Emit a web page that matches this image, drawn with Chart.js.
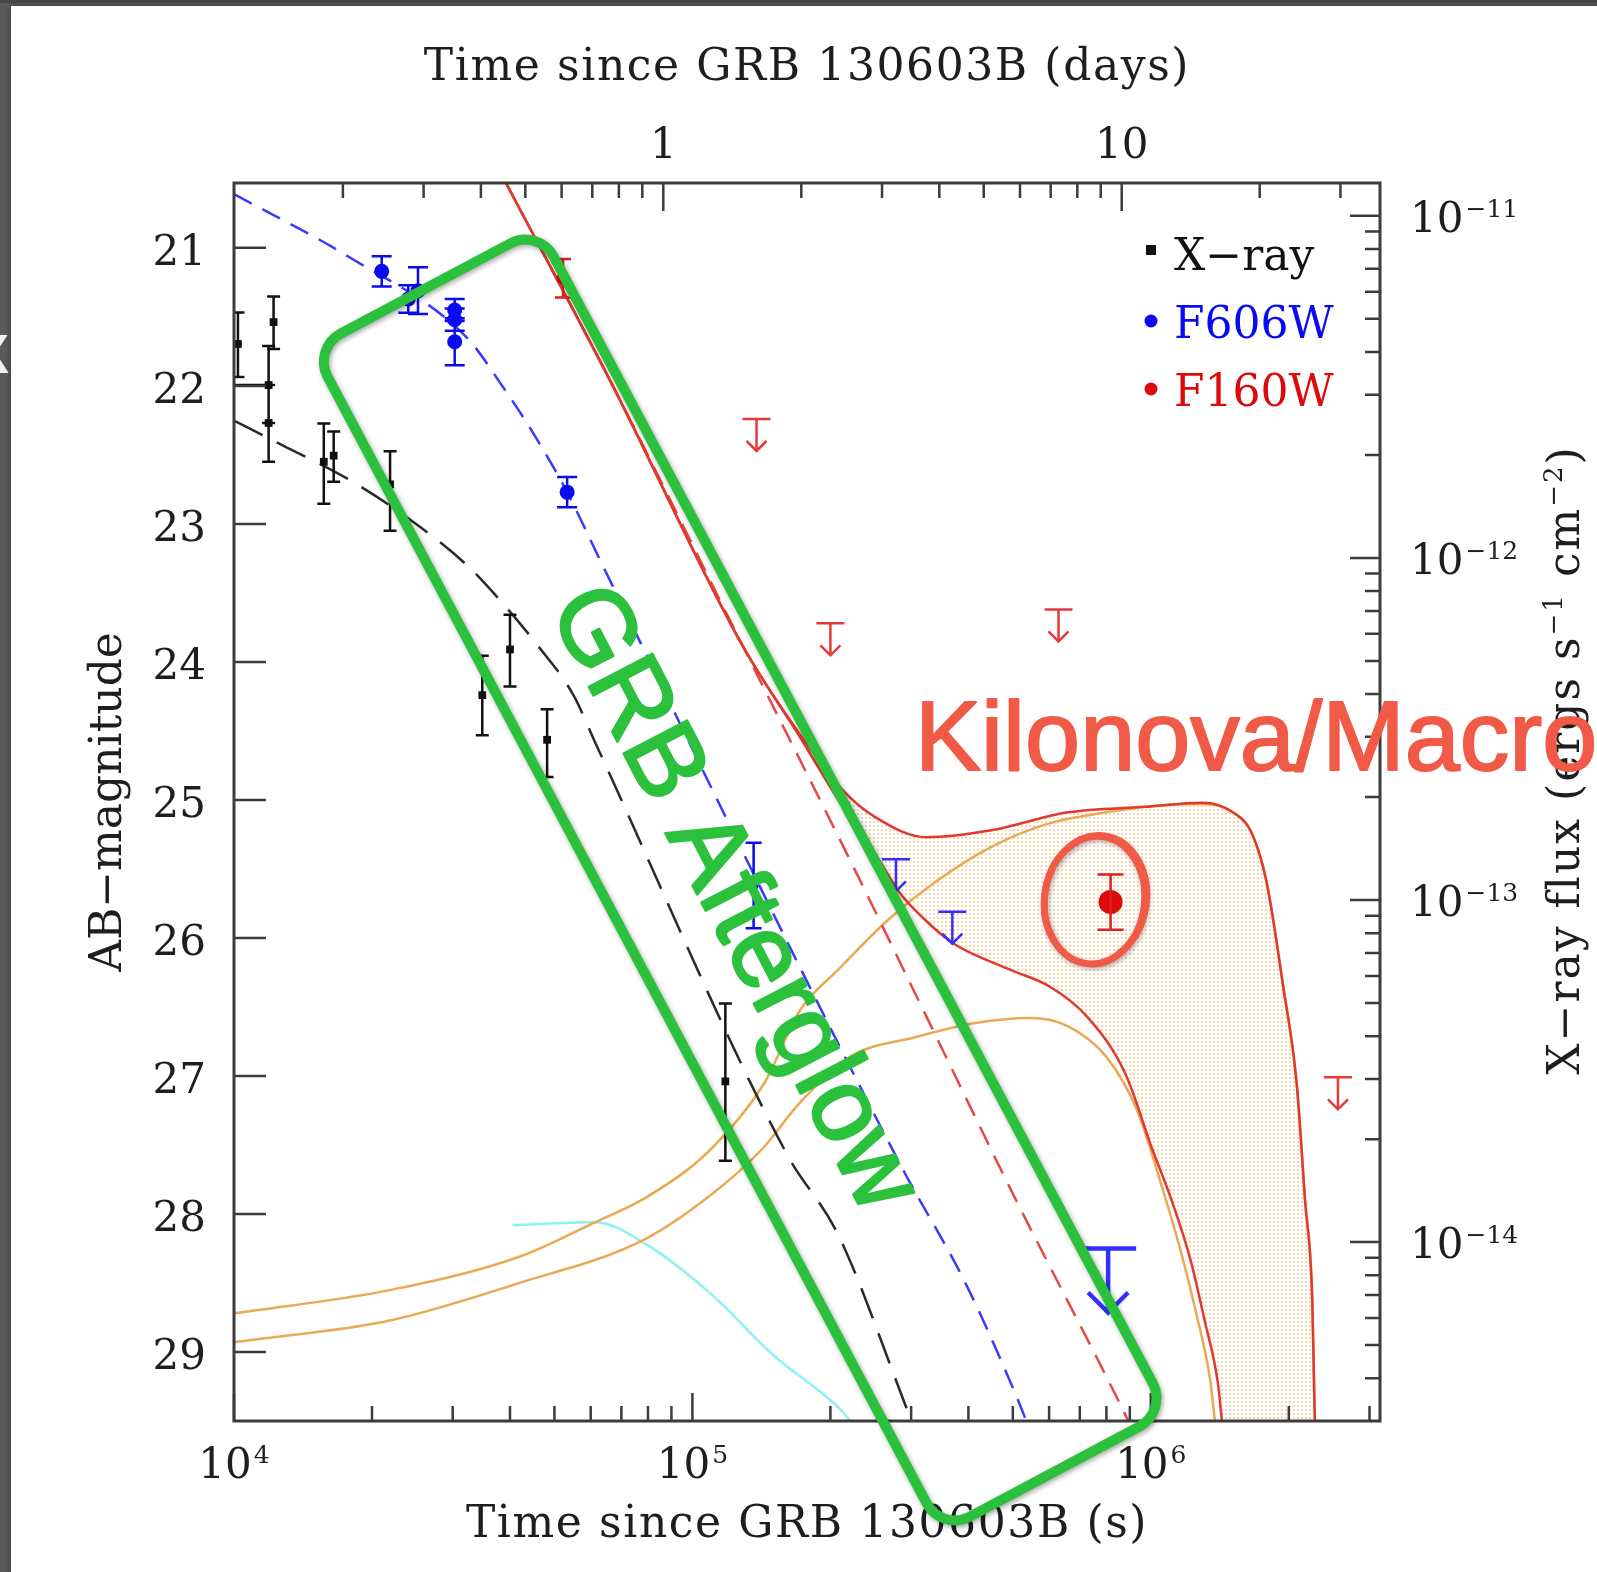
<!DOCTYPE html>
<html lang="en">
<head>
<meta charset="utf-8">
<title>GRB 130603B light curve</title>
<script src="https://cdn.jsdelivr.net/npm/chart.js@4.4.1/dist/chart.umd.min.js"></script>
<style>
  html, body { margin: 0; padding: 0; background: #585858; }
  #wrap { position: relative; width: 1597px; height: 1572px; }
</style>
</head>
<body>
<div id="wrap"><canvas id="lc"></canvas></div>
<script>
// ============================================
// DATA - GRB 130603B light curve (time in seconds)
// ============================================

// Swift/XRT X-ray detections (erg s^-1 cm^-2)
const xrayTime   = [1.02e4, 1.22e4, 1.19e4, 1.19e4, 1.57e4, 1.65e4, 2.19e4, 3.48e4, 4.00e4, 4.82e4, 1.18e5];
const xrayFlux   = [4.22e-12, 4.89e-12, 3.20e-12, 2.48e-12, 1.91e-12, 1.99e-12, 1.64e-12, 3.97e-13, 5.40e-13, 2.94e-13, 2.95e-14];
const xrayFluxHi = [5.22e-12, 5.81e-12, 4.16e-12, 3.20e-12, 2.47e-12, 2.34e-12, 2.05e-12, 5.18e-13, 6.82e-13, 3.61e-13, 4.98e-14];
const xrayFluxLo = [3.38e-12, 4.08e-12, 2.48e-12, 1.91e-12, 1.44e-12, 1.67e-12, 1.20e-12, 3.03e-13, 4.21e-13, 2.29e-13, 1.73e-14];
const xrayTimeLo = [null, null, 9.0e3, null, null, null, null, null, null, null, null];

// F606W (optical) detections and 3-sigma upper limits (AB mag)
const f606Time = [2.10e4, 2.40e4, 2.52e4, 3.03e4, 3.03e4, 3.03e4, 5.33e4, 1.36e5];
const f606Mag  = [21.17, 21.37, 21.31, 21.45, 21.52, 21.68, 22.77, 25.62];
const f606Err  = [0.11, 0.10, 0.17, 0.08, 0.08, 0.17, 0.11, 0.31];
const f606LimTime = [2.78e5, 3.69e5, 8.07e5];
const f606LimMag  = [25.43, 25.81, 28.25];

// F160W (near-IR) detections and upper limits (AB mag)
const f160Time = [5.22e4, 8.17e5];
const f160Mag  = [21.22, 25.74];
const f160Err  = [0.14, 0.20];
const f160LimTime = [1.38e5, 2.00e5, 6.29e5, 2.56e6];
const f160LimMag  = [22.24, 23.72, 23.62, 27.01];

// afterglow models
const xrayModelTime = [1.00e4, 1.28e4, 1.76e4, 2.39e4, 3.22e4, 3.81e4, 4.58e4, 5.49e4, 6.20e4, 1.61e5, 2.08e5, 2.97e5];
const xrayModelFlux = [2.52e-12, 2.13e-12, 1.71e-12, 1.31e-12, 9.53e-13, 7.50e-13, 5.58e-13, 3.99e-13, 2.80e-13, 1.80e-14, 1.05e-14, 3.13e-15];
const f606AgTime = [1.00e4, 1.79e4, 3.22e4, 3.81e4, 4.49e4, 5.33e4, 6.39e4, 2.86e5, 3.94e5, 5.09e5, 5.35e5];
const f606AgMag  = [20.61, 21.07, 21.65, 21.98, 22.34, 22.77, 23.31, 27.66, 28.50, 29.32, 29.50];
const f160AgTime = [3.92e4, 6.61e4, 1.29e5, 2.21e5, 3.24e5, 5.03e5, 8.49e5, 9.23e5];
const f160AgMag  = [20.53, 21.96, 23.89, 25.44, 26.57, 27.87, 29.35, 29.60];

// kilonova models (F160W), bright and faint ejecta cases
const knHiTime = [1.00e4, 2.20e4, 4.19e4, 6.13e4, 7.93e4, 1.09e5, 1.43e5, 1.72e5, 2.08e5, 2.67e5, 3.37e5, 4.49e5, 6.00e5,
                  7.99e5, 1.05e6, 1.30e6, 1.51e6, 1.66e6, 1.79e6, 1.94e6, 2.08e6, 2.17e6, 2.25e6, 2.27e6, 2.28e6, 2.30e6];
const knHiMag  = [28.72, 28.55, 28.31, 28.06, 27.88, 27.54, 27.06, 26.52, 26.23, 25.87, 25.60, 25.34, 25.17,
                  25.09, 25.04, 25.03, 25.09, 25.24, 25.60, 26.33, 27.05, 27.90, 28.62, 29.22, 29.50, 29.63];
const knLoTime = [1.00e4, 2.20e4, 4.19e4, 7.69e4, 1.06e5, 1.41e5, 1.72e5, 2.21e5, 3.06e5, 4.08e5, 5.46e5, 6.60e5, 7.99e5,
                  9.34e5, 1.05e6, 1.16e6, 1.25e6, 1.35e6, 1.38e6, 1.40e6];
const knLoMag  = [28.93, 28.77, 28.50, 28.20, 27.90, 27.54, 27.19, 26.86, 26.72, 26.62, 26.58, 26.64, 26.86,
                  27.25, 27.77, 28.26, 28.69, 29.22, 29.50, 29.63];
// kilonova model (F606W)
const knBlueTime = [4.05e4, 6.13e4, 7.93e4, 1.09e5, 1.51e5, 2.08e5, 2.21e5];
const knBlueMag  = [28.08, 28.06, 28.22, 28.57, 29.03, 29.40, 29.50];

// afterglow + kilonova (F160W)
const totalHiTime = [3.92e4, 6.61e4, 1.29e5, 1.72e5, 2.13e5, 2.52e5, 3.24e5, 4.49e5, 6.60e5, 9.67e5, 1.30e6,
                     1.51e6, 1.66e6, 1.79e6, 1.94e6, 2.08e6, 2.17e6, 2.25e6, 2.27e6, 2.28e6, 2.30e6];
const totalHiMag  = [20.53, 21.96, 23.89, 24.53, 24.93, 25.13, 25.27, 25.22, 25.09, 25.05, 25.02,
                     25.09, 25.24, 25.60, 26.33, 27.05, 27.90, 28.62, 29.22, 29.50, 29.63];
const totalLoTime = [3.92e4, 6.61e4, 1.29e5, 1.72e5, 2.13e5, 2.44e5, 2.83e5, 3.22e5, 3.71e5, 4.93e5, 6.00e5,
                     7.26e5, 8.79e5, 1.01e6, 1.11e6, 1.22e6, 1.31e6, 1.40e6, 1.43e6, 1.45e6];
const totalLoMag  = [20.53, 21.96, 23.89, 24.55, 25.05, 25.33, 25.67, 25.87, 26.04, 26.23, 26.35,
                     26.57, 26.98, 27.54, 27.90, 28.33, 28.77, 29.22, 29.50, 29.63];

// axis ranges and ticks
const DAY = 86400;
const T_MIN = 1e4, T_MAX = 3.162e6;
const MAG_TOP = 20.53, MAG_BOTTOM = 29.5;
const FLUX_MIN = 3.133e-15, FLUX_MAX = 1.247e-11;
const magTicks = [21, 22, 23, 24, 25, 26, 27, 28, 29];
const secMajor = [1e4, 1e5, 1e6];
const secLabels = ['4', '5', '6'];
const dayMajor = [1, 10];
const dayLabels = ['1', '10'];
const fluxMajor = [1e-11, 1e-12, 1e-13, 1e-14];
const fluxLabels = ['\u221211', '\u221212', '\u221213', '\u221214'];

// 2..9 of every decade inside (lo, hi)
function minorTicks(firstDecade, lastDecade, lo, hi) {
    const out = [];
    for (let d = firstDecade; d <= lastDecade; d++) {
        for (let k = 2; k <= 9; k++) {
            const v = k * Math.pow(10, d);
            if (v > lo && v < hi) out.push(v);
        }
    }
    return out;
}
const secMinor = minorTicks(4, 6, T_MIN, T_MAX);
const dayMinor = minorTicks(-1, 1, T_MIN / DAY, T_MAX / DAY);
const fluxMinor = minorTicks(-15, -12, FLUX_MIN, FLUX_MAX);

// ============================================
// STYLE
// ============================================
const SERIF = '"DejaVu Serif", "Liberation Serif", serif';
const SANS = '"Liberation Sans", Arial, sans-serif';
const INK = '#1e1e1e';
const AXIS = '#3c3c3c';
const BLUE = '#0b0bf2';
const RED = '#dc0a0a';
const RED_LINE = '#e2392e';
const ORANGE = '#eaa954';
const CYAN = '#8cf1f1';
const GREEN = '#2cc13d';
const NOTE_RED = '#f05a46';

// annotation anchors (time, magnitude)
const boxCenter = { t: 1.271e5, mag: 25.58 };
const afterglowNote = { t: 1.22e5, mag: 25.72 };
const kilonovaNote = { t: 3.06e5, mag: 24.78 };

const pts = (xs, ys) => xs.map((x, i) => ({ x, y: ys[i] }));

const canvas = document.getElementById('lc');
const ctxMain = canvas.getContext('2d');

// fine dotted fill for the kilonova band
function dotPattern() {
    const tile = document.createElement('canvas');
    tile.width = 4;
    tile.height = 4;
    const t = tile.getContext('2d');
    t.fillStyle = 'rgba(242, 180, 108, 0.55)';
    t.fillRect(1, 1, 2, 2);
    return ctxMain.createPattern(tile, 'repeat');
}

function curve(label, xs, ys, color, extra) {
    return Object.assign({
        label,
        data: pts(xs, ys),
        borderColor: color,
        borderWidth: 2.5,
        borderJoinStyle: 'round',
        pointRadius: 0,
        fill: false,
        cubicInterpolationMode: 'monotone',
        xAxisID: 'x',
        yAxisID: 'y',
        order: 20
    }, extra || {});
}

function marks(label, xs, ys, color, extra) {
    return Object.assign({
        label,
        data: pts(xs, ys),
        showLine: false,
        pointBackgroundColor: color,
        pointBorderWidth: 0,
        xAxisID: 'x',
        yAxisID: 'y',
        order: 1
    }, extra || {});
}

// ============================================
// DRAWING HELPERS
// ============================================
function vBar(ctx, x, y1, y2, cap) {
    ctx.moveTo(x, y1); ctx.lineTo(x, y2);
    ctx.moveTo(x - cap / 2, y1); ctx.lineTo(x + cap / 2, y1);
    ctx.moveTo(x - cap / 2, y2); ctx.lineTo(x + cap / 2, y2);
}

function upperLimit(ctx, x, y, k) {
    const w = 28 * k, len = 32 * k, head = 10 * k;
    ctx.moveTo(x - w / 2, y); ctx.lineTo(x + w / 2, y);
    ctx.moveTo(x, y); ctx.lineTo(x, y + len);
    ctx.moveTo(x - head, y + len - head); ctx.lineTo(x, y + len); ctx.lineTo(x + head, y + len - head);
}

// "10" with a raised exponent
function drawPower(ctx, exp, x, y, align) {
    ctx.font = '42px ' + SERIF;
    const wBase = ctx.measureText('10').width;
    ctx.font = '25px ' + SERIF;
    const wExp = ctx.measureText(exp).width;
    const x0 = align === 'center' ? x - (wBase + 2 + wExp) / 2 : x;
    ctx.textAlign = 'left';
    ctx.font = '42px ' + SERIF;
    ctx.fillText('10', x0, y);
    ctx.font = '25px ' + SERIF;
    ctx.fillText(exp, x0 + wBase + 2, y - 15);
}

// text made of normal and superscript runs, centred on (0, 0)
function drawRuns(ctx, runs, spacing) {
    ctx.letterSpacing = spacing + 'px';
    const widths = runs.map(([s, sup]) => {
        ctx.font = (sup ? '26px ' : '44px ') + SERIF;
        return ctx.measureText(s).width;
    });
    let x = -widths.reduce((a, b) => a + b, 0) / 2;
    ctx.textAlign = 'left';
    runs.forEach(([s, sup], i) => {
        ctx.font = (sup ? '26px ' : '44px ') + SERIF;
        ctx.fillText(s, x, sup ? -17 : 0);
        x += widths[i];
    });
    ctx.letterSpacing = '0px';
}

// ============================================
// PLUGINS
// ============================================
const slideBackdrop = {
    id: 'slideBackdrop',
    beforeDraw(chart) {
        const { ctx, width, height } = chart;
        ctx.save();
        ctx.fillStyle = '#5a5a5a';
        ctx.fillRect(0, 0, width, height);
        ctx.fillStyle = '#474747';
        ctx.fillRect(0, 0, width, 3);
        ctx.shadowColor = 'rgba(0, 0, 0, 0.45)';
        ctx.shadowBlur = 6;
        ctx.fillStyle = '#ffffff';
        ctx.fillRect(11, 6, width, height);
        ctx.shadowColor = 'transparent';
        // clipped letter at the left edge
        ctx.fillStyle = '#f2f2f2';
        ctx.font = 'bold 56px ' + SANS;
        ctx.textAlign = 'right';
        ctx.fillText('X', 9, 373);
        ctx.restore();
    }
};

const errorBars = {
    id: 'errorBars',
    afterDatasetsDraw(chart) {
        const { ctx, chartArea: a } = chart;
        const { x, y, y2 } = chart.scales;
        ctx.save();
        ctx.beginPath();
        ctx.rect(a.left, a.top, a.right - a.left, a.bottom - a.top);
        ctx.clip();

        // X-ray: asymmetric flux errors
        ctx.strokeStyle = '#111';
        ctx.lineWidth = 2.5;
        ctx.beginPath();
        xrayTime.forEach((t, i) => {
            const px = x.getPixelForValue(t);
            vBar(ctx, px, y2.getPixelForValue(xrayFluxHi[i]), y2.getPixelForValue(xrayFluxLo[i]), 13);
            if (xrayTimeLo[i]) {
                const py = y2.getPixelForValue(xrayFlux[i]);
                ctx.moveTo(x.getPixelForValue(xrayTimeLo[i]), py);
                ctx.lineTo(px, py);
            }
        });
        ctx.stroke();

        // F606W
        ctx.strokeStyle = BLUE;
        ctx.beginPath();
        f606Time.forEach((t, i) => {
            const px = x.getPixelForValue(t);
            vBar(ctx, px, y.getPixelForValue(f606Mag[i] - f606Err[i]), y.getPixelForValue(f606Mag[i] + f606Err[i]),
                 i === f606Time.length - 1 ? 16 : 20);
        });
        ctx.stroke();

        // F160W
        ctx.strokeStyle = '#e01e1e';
        ctx.beginPath();
        f160Time.forEach((t, i) => {
            const px = x.getPixelForValue(t);
            vBar(ctx, px, y.getPixelForValue(f160Mag[i] - f160Err[i]), y.getPixelForValue(f160Mag[i] + f160Err[i]),
                 i === 0 ? 16 : 26);
        });
        ctx.stroke();

        // upper limits, the last optical one drawn large
        ctx.lineWidth = 2.5;
        ctx.strokeStyle = '#e53a3a';
        ctx.beginPath();
        f160LimTime.forEach((t, i) => upperLimit(ctx, x.getPixelForValue(t), y.getPixelForValue(f160LimMag[i]), 1));
        ctx.stroke();
        ctx.strokeStyle = '#3030ff';
        f606LimTime.forEach((t, i) => {
            const big = i === f606LimTime.length - 1;
            ctx.lineWidth = big ? 4.5 : 2.5;
            ctx.beginPath();
            upperLimit(ctx, x.getPixelForValue(t), y.getPixelForValue(f606LimMag[i]), big ? 2 : 1);
            ctx.stroke();
        });
        ctx.restore();
    }
};

const frameAxes = {
    id: 'frameAxes',
    afterDatasetsDraw(chart) {
        const { ctx, chartArea: a } = chart;
        const { x, xDays, y, y2 } = chart.scales;
        ctx.save();

        // inward tick marks
        ctx.strokeStyle = AXIS;
        ctx.lineWidth = 2.5;
        ctx.beginPath();
        magTicks.forEach(m => {
            const py = y.getPixelForValue(m);
            ctx.moveTo(a.left, py); ctx.lineTo(a.left + 32, py);
        });
        secMajor.concat(secMinor).forEach(t => {
            const px = x.getPixelForValue(t);
            const len = secMajor.includes(t) ? 28 : 15;
            ctx.moveTo(px, a.bottom); ctx.lineTo(px, a.bottom - len);
        });
        dayMajor.concat(dayMinor).forEach(d => {
            const px = xDays.getPixelForValue(d);
            const len = dayMajor.includes(d) ? 28 : 15;
            ctx.moveTo(px, a.top); ctx.lineTo(px, a.top + len);
        });
        fluxMajor.concat(fluxMinor).forEach(f => {
            const py = y2.getPixelForValue(f);
            const len = fluxMajor.includes(f) ? 30 : 15;
            ctx.moveTo(a.right, py); ctx.lineTo(a.right - len, py);
        });
        ctx.stroke();

        ctx.lineWidth = 3;
        ctx.strokeRect(a.left, a.top, a.right - a.left, a.bottom - a.top);

        // tick labels
        ctx.fillStyle = INK;
        ctx.textBaseline = 'alphabetic';
        ctx.font = '42px ' + SERIF;
        ctx.textAlign = 'right';
        magTicks.forEach(m => ctx.fillText(String(m), a.left - 28, y.getPixelForValue(m) + 17));
        ctx.textAlign = 'center';
        dayMajor.forEach((d, i) => ctx.fillText(dayLabels[i], xDays.getPixelForValue(d), a.top - 25));
        secMajor.forEach((t, i) => drawPower(ctx, secLabels[i], x.getPixelForValue(t), a.bottom + 57, 'center'));
        fluxMajor.forEach((f, i) => drawPower(ctx, fluxLabels[i], a.right + 30, y2.getPixelForValue(f) + 16, 'left'));

        // axis titles
        const midX = (a.left + a.right) / 2;
        const midY = (a.top + a.bottom) / 2;
        ctx.font = '44px ' + SERIF;
        ctx.textAlign = 'center';
        ctx.letterSpacing = '1.6px';
        ctx.fillText('Time since GRB 130603B (days)', midX, 80);
        ctx.fillText('Time since GRB 130603B (s)', midX, 1537);
        ctx.letterSpacing = '0px';

        ctx.save();
        ctx.translate(121, midY);
        ctx.rotate(-Math.PI / 2);
        ctx.fillText('AB\u2212magnitude', 0, 0);
        ctx.restore();

        ctx.save();
        ctx.translate(1579, midY - 42);
        ctx.rotate(-Math.PI / 2);
        drawRuns(ctx, [['X\u2212ray flux (ergs s', false], ['\u22121', true], [' cm', false], ['\u22122', true], [')', false]], 2);
        ctx.restore();

        // legend, top right inside the frame
        const lx = a.right - 229;
        ctx.font = '44px ' + SERIF;
        ctx.textAlign = 'left';
        ctx.fillStyle = '#111';
        ctx.fillRect(lx - 5, a.top + 62, 10, 10);
        ctx.fillText('X\u2212ray', lx + 23, a.top + 87);
        ctx.fillStyle = BLUE;
        ctx.beginPath(); ctx.arc(lx, a.top + 138, 6.5, 0, Math.PI * 2); ctx.fill();
        ctx.fillText('F606W', lx + 23, a.top + 155);
        ctx.fillStyle = RED;
        ctx.beginPath(); ctx.arc(lx, a.top + 206, 6.5, 0, Math.PI * 2); ctx.fill();
        ctx.fillText('F160W', lx + 23, a.top + 223);

        ctx.restore();
    }
};

// hand-drawn highlights on top of the figure
const slideNotes = {
    id: 'slideNotes',
    afterDraw(chart) {
        const { ctx } = chart;
        const { x, y } = chart.scales;
        ctx.save();

        // green outline around the afterglow-dominated part
        const bx = x.getPixelForValue(boxCenter.t);
        const by = y.getPixelForValue(boxCenter.mag);
        const ang = 62 * Math.PI / 180;
        ctx.translate(bx, by);
        ctx.rotate(ang);
        ctx.strokeStyle = GREEN;
        ctx.lineJoin = 'round';
        ctx.shadowColor = 'rgba(0, 0, 0, 0.35)';
        ctx.shadowBlur = 5;
        ctx.shadowOffsetX = 1.5;
        ctx.shadowOffsetY = 2;
        ctx.lineWidth = 10;
        ctx.beginPath();
        ctx.roundRect(-670, -128, 1340, 256, 32);
        ctx.stroke();
        ctx.shadowColor = 'transparent';
        ctx.lineWidth = 4;
        ctx.globalAlpha = 0.8;
        ctx.beginPath();
        ctx.roundRect(-668.5, -126.5, 1338, 254, 34);
        ctx.stroke();
        ctx.globalAlpha = 1;
        ctx.setTransform(1, 0, 0, 1, 0, 0);

        // afterglow label along the box
        ctx.save();
        ctx.translate(x.getPixelForValue(afterglowNote.t), y.getPixelForValue(afterglowNote.mag));
        ctx.rotate(62.5 * Math.PI / 180);
        ctx.font = '104px ' + SANS;
        ctx.textAlign = 'center';
        ctx.textBaseline = 'middle';
        ctx.fillStyle = GREEN;
        ctx.strokeStyle = GREEN;
        ctx.lineWidth = 2.5;
        ctx.fillText('GRB Afterglow', 0, 0);
        ctx.strokeText('GRB Afterglow', 0, 0);
        ctx.restore();

        // kilonova label, running off the right edge
        ctx.font = '99px ' + SANS;
        ctx.textAlign = 'left';
        ctx.textBaseline = 'alphabetic';
        ctx.fillStyle = NOTE_RED;
        ctx.strokeStyle = NOTE_RED;
        ctx.lineWidth = 2;
        const kx = x.getPixelForValue(kilonovaNote.t);
        const ky = y.getPixelForValue(kilonovaNote.mag);
        ctx.fillText('Kilonova/Macronova', kx, ky);
        ctx.strokeText('Kilonova/Macronova', kx, ky);

        // ring around the late F160W detection
        const last = f160Time.length - 1;
        const ex = x.getPixelForValue(f160Time[last]) - 16;
        const ey = y.getPixelForValue(f160Mag[last]) - 2;
        ctx.strokeStyle = NOTE_RED;
        ctx.shadowColor = 'rgba(0, 0, 0, 0.3)';
        ctx.shadowBlur = 5;
        ctx.shadowOffsetY = 2;
        ctx.lineWidth = 7;
        ctx.beginPath();
        ctx.ellipse(ex, ey, 50, 64, 0.12, 0, Math.PI * 2);
        ctx.stroke();
        ctx.shadowColor = 'transparent';
        ctx.lineWidth = 2.5;
        ctx.beginPath();
        ctx.ellipse(ex + 1, ey - 1, 53, 66, 0.16, 0, Math.PI * 2);
        ctx.stroke();

        ctx.restore();
    }
};

// ============================================
// CHART
// ============================================
const chart = new Chart(ctxMain, {
    type: 'line',
    data: {
        datasets: [
            // dotted band: everything under the bright total curve,
            // then the area under the faint one painted back to white
            curve('kilonova band', totalHiTime, totalHiMag, 'transparent', {
                borderWidth: 0, fill: { value: MAG_BOTTOM }, backgroundColor: dotPattern(), order: 50
            }),
            curve('kilonova band edge', totalLoTime, totalLoMag, 'transparent', {
                borderWidth: 0, fill: { value: MAG_BOTTOM }, backgroundColor: '#ffffff', order: 45
            }),
            curve('F160W kilonova (bright)', knHiTime, knHiMag, ORANGE, { order: 30 }),
            curve('F160W kilonova (faint)', knLoTime, knLoMag, ORANGE, { order: 30 }),
            curve('F606W kilonova', knBlueTime, knBlueMag, CYAN, { order: 30 }),
            curve('X-ray afterglow', xrayModelTime, xrayModelFlux, '#2a2a2a', { yAxisID: 'y2', borderDash: [32, 16], order: 25 }),
            curve('F606W afterglow', f606AgTime, f606AgMag, '#3a3aff', { borderDash: [20, 12], order: 25 }),
            curve('F160W afterglow', f160AgTime, f160AgMag, '#e64848', { borderDash: [20, 12], order: 25 }),
            curve('F160W total (faint)', totalLoTime, totalLoMag, RED_LINE, { order: 20 }),
            curve('F160W total (bright)', totalHiTime, totalHiMag, RED_LINE, { order: 20 }),
            marks('X-ray', xrayTime, xrayFlux, '#111', { yAxisID: 'y2', pointStyle: 'rect', pointRadius: 5.5 }),
            marks('F606W', f606Time, f606Mag, BLUE, { pointRadius: [7.5, 7.5, 7.5, 7.5, 7.5, 7.5, 7.5, 5] }),
            marks('F160W', f160Time, f160Mag, RED, { pointRadius: [6.5, 12] })
        ]
    },
    options: {
        responsive: true,
        maintainAspectRatio: false,
        devicePixelRatio: 1,
        animation: false,
        events: [],
        layout: { padding: { left: 234, top: 183, right: 217, bottom: 151 } },
        plugins: {
            legend: { display: false },
            tooltip: { enabled: false }
        },
        scales: {
            x: { type: 'logarithmic', position: 'bottom', min: T_MIN, max: T_MAX, display: false },
            xDays: { type: 'logarithmic', axis: 'x', position: 'top', min: T_MIN / DAY, max: T_MAX / DAY, display: false },
            y: { type: 'linear', position: 'left', reverse: true, min: MAG_TOP, max: MAG_BOTTOM, display: false },
            y2: { type: 'logarithmic', axis: 'y', position: 'right', min: FLUX_MIN, max: FLUX_MAX, display: false }
        }
    },
    plugins: [slideBackdrop, errorBars, frameAxes, slideNotes]
});
</script>
</body>
</html>
